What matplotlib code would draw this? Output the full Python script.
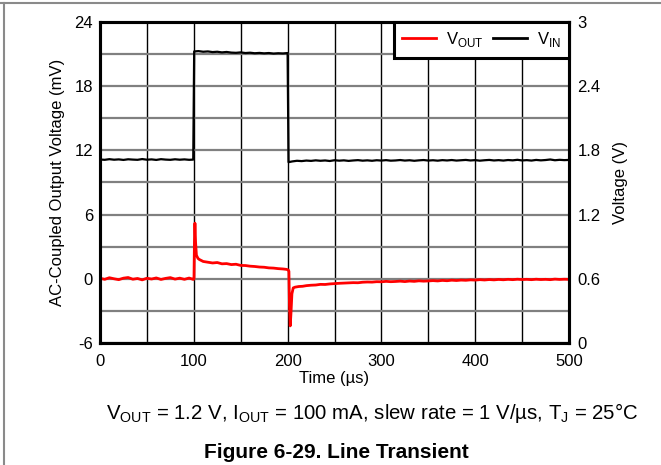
import matplotlib.pyplot as plt
from matplotlib.lines import Line2D
from matplotlib.ticker import MultipleLocator

plt.rcParams["font.family"] = ["Liberation Sans", "DejaVu Sans"]
plt.rcParams["mathtext.fontset"] = "custom"
plt.rcParams["mathtext.rm"] = "Liberation Sans"
plt.rcParams["axes.unicode_minus"] = False
plt.rcParams["font.size"] = 12

# VOUT, AC-coupled (mV) vs time (us)
vout_time = (
    list(range(0, 100, 5)) + [99.5, 100.2, 100.7, 101.2, 101.9, 102.8, 104.5, 106]
    + list(range(110, 200, 5)) + [199, 200.8, 201.4, 202.0, 202.8, 203.6, 204.6, 206, 208, 212, 216]
    + list(range(220, 505, 5))
)
vout_mv = (
    [0.05, -0.05, 0.10, 0.00, -0.08, 0.06, 0.12, -0.04, 0.03, -0.10,
     0.05, -0.02, 0.08, -0.06, 0.04, 0.11, -0.03, 0.06, -0.05, 0.07]
    + [-0.06, 0.00, 3.5, 5.2, 3.4, 2.2, 1.9, 1.8]
    + [1.62, 1.55, 1.48, 1.52, 1.40, 1.42, 1.33, 1.36, 1.25, 1.24,
       1.18, 1.15, 1.10, 1.08, 1.02, 1.00, 0.95, 0.92]
    + [0.88, 0.82, 0.70, -2.5, -4.4, -3.2, -1.4, -0.85, -0.78, -0.72, -0.70]
    + [-0.64, -0.60, -0.58, -0.52, -0.53, -0.48, -0.45, -0.42, -0.40, -0.38,
       -0.36, -0.37, -0.32, -0.30, -0.31, -0.27, -0.28, -0.24, -0.27, -0.25,
       -0.22, -0.26, -0.21, -0.24, -0.19, -0.22, -0.20, -0.17, -0.20, -0.15,
       -0.18, -0.13, -0.16, -0.12, -0.14, -0.10, -0.12, -0.08, -0.11, -0.07,
       -0.10, -0.06, -0.09, -0.05, -0.08, -0.04, -0.07, -0.05, -0.08, -0.04,
       -0.07, -0.05, -0.08, -0.03, -0.06, -0.04, -0.05]
)

# VIN (V) vs time (us)
vin_time = (
    list(range(0, 100, 5)) + [99.4, 100.4]
    + list(range(105, 200, 5)) + [200.0, 201.0]
    + list(range(205, 505, 5))
)
vin_v = (
    [1.715, 1.712, 1.718, 1.713, 1.716, 1.711, 1.717, 1.714, 1.712, 1.719,
     1.713, 1.716, 1.711, 1.718, 1.714, 1.712, 1.717, 1.713, 1.716, 1.712]
    + [1.714, 2.725]
    + [2.728, 2.722, 2.725, 2.719, 2.722, 2.716, 2.720, 2.714, 2.712, 2.716,
       2.710, 2.713, 2.708, 2.711, 2.707, 2.710, 2.705, 2.708, 2.706]
    + [2.710, 1.690]
    + [1.697, 1.703, 1.700, 1.705, 1.702, 1.707, 1.703, 1.706, 1.701, 1.708,
       1.704, 1.707, 1.702, 1.706, 1.709, 1.704, 1.707, 1.703, 1.708, 1.705,
       1.709, 1.704, 1.706, 1.710, 1.705, 1.708, 1.703, 1.707, 1.710, 1.705,
       1.708, 1.704, 1.709, 1.706, 1.710, 1.705, 1.708, 1.711, 1.706, 1.709,
       1.704, 1.708, 1.711, 1.706, 1.709, 1.705, 1.710, 1.707, 1.712, 1.706,
       1.709, 1.705, 1.711, 1.707, 1.710, 1.715, 1.708, 1.712, 1.709, 1.711]
)

x_ticks = [0, 100, 200, 300, 400, 500]
left_ticks = [-6, 0, 6, 12, 18, 24]
right_ticks = [0, 0.6, 1.2, 1.8, 2.4, 3]

fig = plt.figure(figsize=(6.61, 4.65), dpi=100)
ax = fig.add_axes([100 / 661, 122 / 465, 469 / 661, 321 / 465])
ax2 = ax.twinx()

ax.set_xlim(0, 500)
ax.set_ylim(-6, 24)
ax2.set_ylim(0, 3)

ax.set_xticks(x_ticks)
ax.set_yticks(left_ticks)
ax2.set_yticks(right_ticks)
ax2.set_yticklabels(["0", "0.6", "1.2", "1.8", "2.4", "3"])
ax.xaxis.set_minor_locator(MultipleLocator(50))
ax.yaxis.set_minor_locator(MultipleLocator(3))

ax.grid(True, which="both", axis="x", color="black", linewidth=1.0)
ax.grid(True, which="both", axis="y", color="#808080", linewidth=1.6)
ax.set_axisbelow(True)
ax.tick_params(which="both", length=0)
ax.tick_params(axis="y", pad=5)
ax.tick_params(axis="x", pad=8)
ax2.tick_params(length=0, pad=6)

for axis in (ax, ax2):
    for spine in axis.spines.values():
        spine.set_linewidth(2.2)
        spine.set_color("black")

ax.plot(vout_time, vout_mv, color="#ff0000", linewidth=2.0, zorder=3)
ax2.plot(vin_time, vin_v, color="black", linewidth=1.6, zorder=3)

ax.set_xlabel("Time (µs)", labelpad=1)
ax.set_ylabel("AC-Coupled Output Voltage (mV)", labelpad=7)
ax2.set_ylabel("Voltage (V)", labelpad=9)

handles = [
    Line2D([], [], color="#ff0000", linewidth=2.0),
    Line2D([], [], color="black", linewidth=2.0),
]
leg = ax2.legend(
    handles,
    ["V$_{\\mathregular{OUT}}$", "V$_{\\mathregular{IN}}$"],
    loc="upper right",
    ncol=2,
    borderaxespad=0,
    fancybox=False,
    framealpha=1,
    edgecolor="black",
    handlelength=2.0,
    handletextpad=0.6,
    columnspacing=0.6,
    borderpad=0.5,
)
leg.get_frame().set_linewidth(2.2)

fig.text(
    372 / 661, 1 - 413 / 465,
    "V$_{\\mathregular{OUT}}$ = 1.2 V, I$_{\\mathregular{OUT}}$ = 100 mA, "
    "slew rate = 1 V/µs, T$_{\\mathregular{J}}$ = 25°C",
    ha="center", va="center", fontsize=14.7,
)
fig.text(
    336 / 661, 1 - 452 / 465, "Figure 6-29. Line Transient",
    ha="center", va="center", fontsize=15, fontweight="bold",
)

# page frame lines (top and left)
fig.add_artist(Line2D([0, 1], [1 - 3 / 465, 1 - 3 / 465], color="#8a8a8a", linewidth=1.5))
fig.add_artist(Line2D([4 / 661, 4 / 661], [0, 1 - 3 / 465], color="#8a8a8a", linewidth=1.5))

fig.savefig("out.png", dpi=100)
